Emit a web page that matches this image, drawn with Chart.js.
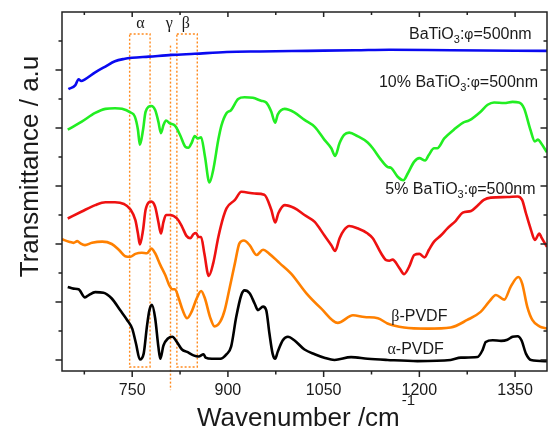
<!DOCTYPE html>
<html><head><meta charset="utf-8">
<script src="https://cdn.jsdelivr.net/npm/chart.js@4"></script>
<style>html,body{margin:0;padding:0;background:#fff}canvas{display:block}</style>
</head><body>
<canvas id="c" width="548" height="430"></canvas>
<script>
// ---- tick definitions ----
const xTicksMajor = [750, 900, 1050, 1200, 1350];
const xTicksMinor = [675, 825, 975, 1125, 1275];
const yTicksMajor = [0, 1, 2, 3, 4, 5];
const yTicksMinor = [0.5, 1.5, 2.5, 3.5, 4.5, 5.5];

// ---- series: BaTiO3 (phi=500nm) ----
const btoWn = [650,661,666,670,676,692,708,723,737,750,776,812,848,898,950,1025,1100,1153,1250,1400];
const btoT  = [4.67,4.74,4.84,4.81,4.84,4.96,5.06,5.15,5.19,5.21,5.23,5.26,5.28,5.31,5.32,5.33,5.34,5.35,5.34,5.33];

// ---- series: 10% BaTiO3 ----
const p10Wn = [649,671,692,708,723,734,747,754,759,762,767,771,780,786,791,795,799,803,809,817,825,833,838,843,848,853,858,864,871,877,885,890,898,905,916,926,939,952,960,968,974,978,989,1004,1020,1036,1051,1062,1068,1075,1082,1090,1103,1119,1127,1140,1150,1156,1166,1175,1182,1192,1200,1209,1215,1223,1228,1239,1254,1268,1278,1296,1307,1317,1333,1346,1356,1364,1374,1381,1386,1390,1400];
const p10T  = [3.97,4.11,4.26,4.33,4.34,4.33,4.27,4.20,3.97,3.71,3.97,4.28,4.38,4.31,4.11,3.91,4.05,4.13,4.08,4.04,3.88,3.68,3.66,3.74,3.86,3.82,3.84,3.51,3.06,3.28,3.80,4.05,4.26,4.31,4.50,4.53,4.52,4.47,4.44,4.28,4.09,4.23,4.33,4.27,4.14,4.02,3.80,3.65,3.52,3.74,3.88,3.92,3.86,3.75,3.65,3.45,3.33,3.31,3.16,3.10,3.22,3.42,3.48,3.44,3.54,3.65,3.65,3.82,3.97,4.09,4.13,4.28,4.40,4.44,4.43,4.45,4.44,4.34,3.97,3.77,3.80,3.75,3.58];

// ---- series: 5% BaTiO3 ----
const p5Wn = [649,671,692,708,723,737,747,755,759,762,767,771,780,786,791,795,799,803,809,820,828,835,841,846,850,854,858,863,870,877,885,893,898,911,921,942,957,968,974,979,989,1004,1020,1036,1051,1062,1068,1075,1082,1090,1103,1119,1127,1140,1148,1153,1158,1169,1176,1184,1192,1200,1208,1215,1223,1234,1244,1257,1268,1281,1291,1301,1312,1338,1354,1361,1367,1375,1381,1388,1391,1400];
const p5T  = [2.44,2.56,2.67,2.72,2.72,2.69,2.60,2.41,2.18,1.99,2.24,2.59,2.73,2.64,2.38,2.18,2.38,2.50,2.50,2.44,2.30,2.14,2.10,2.17,2.19,2.12,2.12,1.84,1.45,1.67,2.12,2.47,2.62,2.76,2.90,2.87,2.85,2.59,2.37,2.53,2.67,2.62,2.50,2.38,2.15,1.98,1.88,2.10,2.24,2.31,2.27,2.18,2.10,1.84,1.72,1.71,1.73,1.58,1.48,1.61,1.81,1.83,1.77,1.90,2.04,2.15,2.27,2.40,2.54,2.57,2.66,2.76,2.80,2.81,2.82,2.76,2.53,2.24,2.07,2.18,2.12,1.95];

// ---- series: beta-PVDF ----
const betaWn = [640,651,658,664,669,676,687,703,718,729,739,747,755,765,773,780,786,794,802,808,813,817,823,829,836,843,851,858,864,872,879,888,895,903,911,918,925,934,945,955,965,981,999,1023,1046,1072,1096,1114,1135,1150,1176,1213,1249,1275,1296,1309,1320,1333,1343,1355,1361,1369,1377,1388,1400];
const betaT  = [2.08,2.04,2.02,2.05,2.01,1.98,2.02,2.04,2.00,1.90,1.79,1.78,1.83,1.85,1.84,1.92,1.84,1.64,1.46,1.29,1.22,1.22,1.06,0.86,0.72,0.83,1.06,1.19,1.06,0.74,0.58,0.66,0.86,1.26,1.67,2.01,2.06,1.98,1.81,1.90,1.83,1.67,1.49,1.15,0.89,0.64,0.77,0.74,0.72,0.63,0.56,0.54,0.56,0.69,0.83,1.00,1.12,1.04,1.26,1.43,1.32,0.92,0.69,0.58,0.54];

// ---- series: alpha-PVDF ----
const alphaWn = [649,658,666,676,682,692,705,718,731,742,750,756,762,768,773,777,781,786,791,794,799,806,813,820,828,836,846,854,862,865,875,888,898,905,913,921,926,934,942,947,955,960,965,970,974,978,986,994,1004,1020,1036,1051,1067,1093,1119,1150,1197,1249,1265,1291,1299,1304,1315,1328,1338,1346,1354,1360,1367,1375,1400];
const alphaT  = [1.26,1.23,1.22,1.08,1.12,1.17,1.16,1.06,0.86,0.69,0.54,0.28,0.01,0.11,0.57,0.86,0.95,0.72,0.23,0.02,0.25,0.37,0.40,0.31,0.18,0.14,0.08,0.06,0.10,0.04,0.02,0.02,0.10,0.23,0.74,1.12,1.20,1.15,0.97,0.86,0.92,0.86,0.46,0.11,0.02,0.14,0.34,0.40,0.34,0.18,0.10,0.04,0.00,0.05,0.02,0.00,-0.02,0.00,0.04,0.05,0.17,0.31,0.34,0.33,0.35,0.40,0.41,0.34,0.11,0.00,-0.02];

// ---- band markers (wavenumber) ----
const bandBoxes = [[746, 778], [820, 852]];   // alpha, beta
const gammaLine = 810;
const bandNames = ['α', 'γ', 'β'];
const bandNamePos = [763, 808, 834];

const toPts = (w, t) => w.map((v, i) => ({x: v, y: t[i]}));

const SANS = '"Liberation Sans", Arial, sans-serif';
const SERIF = '"Liberation Serif", "Times New Roman", serif';
const TXT = '#1a1a1a';

function rich(ctx, parts, x, y, align) {
  let w = 0;
  for (const p of parts) { ctx.font = p.f; p.w = ctx.measureText(p.t).width; w += p.w; }
  let cx = align === 'right' ? x - w : (align === 'center' ? x - w / 2 : x);
  ctx.textAlign = 'left';
  for (const p of parts) { ctx.font = p.f; ctx.fillText(p.t, cx, y + (p.dy || 0)); cx += p.w; }
}
function btoParts(prefix) {
  const f = '16px ' + SANS;
  const parts = [];
  if (prefix) parts.push({t: prefix, f});
  parts.push({t: 'BaTiO', f}, {t: '3', f: '11px ' + SANS, dy: 4}, {t: ':', f},
             {t: 'φ', f: '14px ' + SANS}, {t: '=500nm', f});
  return parts;
}

const decor = {
  id: 'decor',
  beforeDatasetsDraw(chart) {
    const {ctx, scales: {x, y}} = chart;
    ctx.save();
    ctx.strokeStyle = '#ff8a1e';
    ctx.lineWidth = 1.4;
    ctx.setLineDash([2, 2]);
    const yt = y.getPixelForValue(5.62), yb = y.getPixelForValue(-0.12);
    for (const [a, b] of bandBoxes) {
      const xa = x.getPixelForValue(a), xb = x.getPixelForValue(b);
      ctx.strokeRect(xa, yt, xb - xa, yb - yt);
    }
    const xg = x.getPixelForValue(gammaLine);
    ctx.beginPath();
    ctx.moveTo(xg, y.getPixelForValue(5.42));
    ctx.lineTo(xg, y.getPixelForValue(-0.52));
    ctx.stroke();
    ctx.restore();
  },
  afterDraw(chart) {
    const {ctx, chartArea: ca, scales: {x, y}} = chart;
    ctx.save();
    ctx.strokeStyle = '#222';
    ctx.lineWidth = 1.5;
    ctx.strokeRect(ca.left, ca.top, ca.right - ca.left, ca.bottom - ca.top);
    ctx.beginPath();
    const tk = (vals, len, lenIn) => {
      for (const v of vals) {
        const p = x.getPixelForValue(v);
        ctx.moveTo(p, ca.bottom); ctx.lineTo(p, ca.bottom + len);
        ctx.moveTo(p, ca.top); ctx.lineTo(p, ca.top + lenIn);
      }
    };
    tk(xTicksMajor, 6, 5); tk(xTicksMinor, 3.5, 3);
    const tky = (vals, len) => {
      for (const v of vals) {
        const p = y.getPixelForValue(v);
        ctx.moveTo(ca.left, p); ctx.lineTo(ca.left - len, p);
        ctx.moveTo(ca.right, p); ctx.lineTo(ca.right - len, p);
      }
    };
    tky(yTicksMajor, 6.5); tky(yTicksMinor, 3.5);
    ctx.stroke();

    ctx.fillStyle = TXT;
    ctx.font = '16px ' + SANS;
    ctx.textAlign = 'center';
    ctx.textBaseline = 'alphabetic';
    for (const v of xTicksMajor) ctx.fillText(String(v), x.getPixelForValue(v), 395);

    // axis titles
    ctx.font = '26px ' + SANS;
    ctx.textAlign = 'left';
    const tt = 'Wavenumber /cm';
    const tw = ctx.measureText(tt).width;
    const tx = 197;
    ctx.fillText(tt, tx, 426);
    ctx.font = '15px ' + SANS;
    ctx.fillText('-1', tx + tw + 2, 405);

    ctx.save();
    ctx.translate(38, 166.5);
    ctx.rotate(-Math.PI / 2);
    ctx.font = '26px ' + SANS;
    ctx.textAlign = 'center';
    ctx.fillText('Transmittance / a.u', 0, 0);
    ctx.restore();

    // band names
    ctx.font = '16px ' + SERIF;
    ctx.textAlign = 'center';
    bandNames.forEach((n, i) => ctx.fillText(n, x.getPixelForValue(bandNamePos[i]), y.getPixelForValue(5.72)));

    // series labels
    rich(ctx, btoParts(''), x.getPixelForValue(1376), y.getPixelForValue(5.53), 'right');
    rich(ctx, btoParts('10% '), x.getPixelForValue(1386), y.getPixelForValue(4.71), 'right');
    rich(ctx, btoParts('5% '), x.getPixelForValue(1382), y.getPixelForValue(2.87), 'right');
    rich(ctx, [{t: 'β', f: '16px ' + SERIF}, {t: '-PVDF', f: '16px ' + SANS}], x.getPixelForValue(1156), y.getPixelForValue(0.67), 'left');
    rich(ctx, [{t: 'α', f: '16px ' + SERIF}, {t: '-PVDF', f: '16px ' + SANS}], x.getPixelForValue(1150), y.getPixelForValue(0.10), 'left');
    ctx.restore();
  }
};

const mk = (pts, color) => ({
  data: pts, borderColor: color, borderWidth: 2.6, pointRadius: 0,
  fill: false, cubicInterpolationMode: 'monotone'
});

new Chart(document.getElementById('c'), {
  type: 'line',
  data: {
    datasets: [
      mk(toPts(btoWn, btoT), '#0a0af0'),
      mk(toPts(p10Wn, p10T), '#22ee22'),
      mk(toPts(p5Wn, p5T), '#ee1111'),
      mk(toPts(betaWn, betaT), '#ff8000'),
      mk(toPts(alphaWn, alphaT), '#000000')
    ]
  },
  options: {
    responsive: false,
    animation: false,
    devicePixelRatio: 1,
    layout: {padding: {left: 62, top: 12, right: 1, bottom: 59}},
    plugins: {legend: {display: false}, tooltip: {enabled: false}},
    scales: {
      x: {type: 'linear', min: 640, max: 1400, display: false},
      y: {type: 'linear', min: -0.19, max: 6.0, display: false}
    }
  },
  plugins: [decor]
});
</script>
</body></html>
